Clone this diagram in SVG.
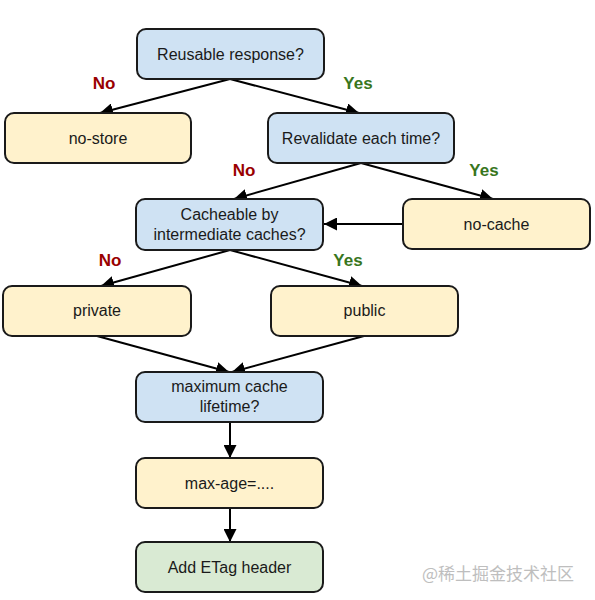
<svg xmlns="http://www.w3.org/2000/svg" width="595" height="600" viewBox="0 0 595 600">
<defs>
<style>
.box{stroke:#1a1a1a;stroke-width:2}
.q{fill:#cfe2f3}
.a{fill:#fff2cc}
.g{fill:#d9ead3}
.t{font-family:"Liberation Sans",Arial,sans-serif;font-size:16px;fill:#1a1a1a;text-anchor:middle}
.no{font-family:"Liberation Sans",Arial,sans-serif;font-size:17px;font-weight:bold;fill:#990000;text-anchor:middle}
.yes{font-family:"Liberation Sans",Arial,sans-serif;font-size:17px;font-weight:bold;fill:#38761d;text-anchor:middle}
.e{stroke:#000;stroke-width:2;fill:none;marker-end:url(#ah)}
</style>
<marker id="ah" viewBox="0 0 10 10" refX="10" refY="5" markerWidth="6.5" markerHeight="6.5" markerUnits="strokeWidth" orient="auto">
<path d="M0,0 L10,5 L0,10 z" fill="#000"/>
</marker>
</defs>
<rect width="595" height="600" fill="#fff"/>
<g id="connectors">
<line class="e" x1="230" y1="79" x2="100" y2="113"/>
<line class="e" x1="230" y1="79" x2="359" y2="113"/>
<line class="e" x1="361" y1="163" x2="234" y2="199"/>
<line class="e" x1="361" y1="163" x2="493" y2="199"/>
<line class="e" x1="403" y1="224" x2="324" y2="224"/>
<line class="e" x1="230" y1="250" x2="101" y2="286"/>
<line class="e" x1="230" y1="250" x2="362" y2="286"/>
<line class="e" x1="97" y1="336" x2="229" y2="372"/>
<line class="e" x1="364" y1="336" x2="232" y2="372"/>
<line class="e" x1="230" y1="422" x2="230" y2="458"/>
<line class="e" x1="230" y1="508" x2="230" y2="542"/>
</g>
<g id="labels">
<text class="no" x="104" y="89">No</text>
<text class="yes" x="358" y="89">Yes</text>
<text class="no" x="244" y="176">No</text>
<text class="yes" x="484" y="176">Yes</text>
<text class="no" x="110" y="266">No</text>
<text class="yes" x="348" y="266">Yes</text>
</g>
<g id="reusable"><rect class="box q" x="137" y="29" width="187" height="50" rx="9"/><text class="t" x="230.5" y="60">Reusable response?</text></g>
<g id="no-store"><rect class="box a" x="5" y="113" width="186" height="50" rx="9"/><text class="t" x="98" y="144">no-store</text></g>
<g id="revalidate"><rect class="box q" x="268" y="113" width="186" height="50" rx="9"/><text class="t" x="361" y="144">Revalidate each time?</text></g>
<g id="no-cache"><rect class="box a" x="403" y="199" width="187" height="50" rx="9"/><text class="t" x="496.5" y="230">no-cache</text></g>
<g id="cacheable"><rect class="box q" x="136" y="199" width="187" height="51" rx="9"/><text class="t" x="229.5" y="220">Cacheable by</text><text class="t" x="229.5" y="240">intermediate caches?</text></g>
<g id="private"><rect class="box a" x="3" y="286" width="188" height="50" rx="9"/><text class="t" x="97" y="316">private</text></g>
<g id="public"><rect class="box a" x="271" y="286" width="187" height="50" rx="9"/><text class="t" x="364.5" y="316">public</text></g>
<g id="max-lifetime"><rect class="box q" x="136" y="372" width="187" height="50" rx="9"/><text class="t" x="229.5" y="392">maximum cache</text><text class="t" x="229.5" y="412">lifetime?</text></g>
<g id="max-age"><rect class="box a" x="136" y="458" width="187" height="50" rx="9"/><text class="t" x="229.5" y="489">max-age=....</text></g>
<g id="etag"><rect class="box g" x="136" y="542" width="187" height="50" rx="9"/><text class="t" x="229.5" y="573">Add ETag header</text></g>
<text x="498" y="580" font-family="'Noto Sans CJK SC',sans-serif" font-size="17" fill="#b8b8b8" text-anchor="middle" opacity="0.9">@稀土掘金技术社区</text>
</svg>
